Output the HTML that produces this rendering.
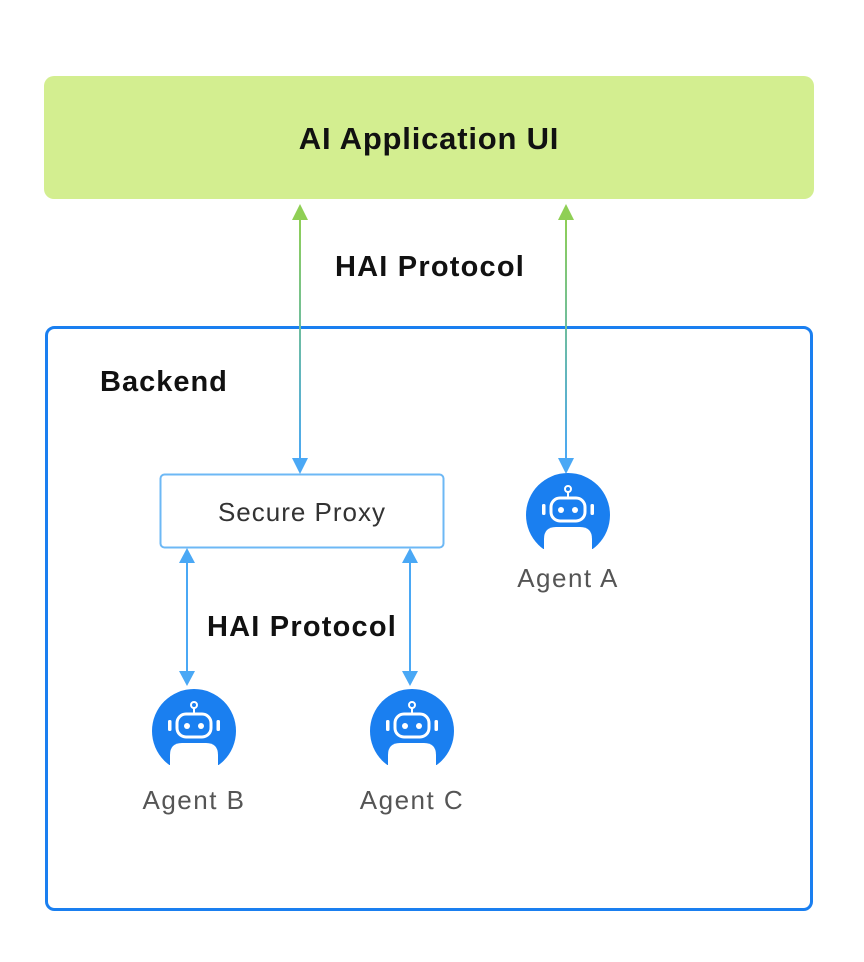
<!DOCTYPE html>
<html><head><style>body{margin:0;background:#fff}svg{display:block}</style></head><body>
<svg width="864" height="962" viewBox="0 0 864 962" xmlns="http://www.w3.org/2000/svg" font-family="Liberation Sans, sans-serif">
<defs>
<linearGradient id="g" x1="0" y1="0" x2="0" y2="1"><stop offset="0" stop-color="#8fcf55"/><stop offset="1" stop-color="#4aa8f5"/></linearGradient>
<g id="bot">
<clipPath id="cp"><rect x="-50" y="-50" width="100" height="84"/></clipPath>
<circle r="42" fill="#1a7ff0" clip-path="url(#cp)"/>
<path d="M-24,34 V24 Q-24,12 -12,12 H12 Q24,12 24,24 V34 Z" fill="#fff"/>
<rect x="-17" y="-17" width="34" height="23" rx="9" fill="#1a7ff0" stroke="#fff" stroke-width="3"/>
<circle cx="-7" cy="-5" r="3" fill="#fff"/><circle cx="7" cy="-5" r="3" fill="#fff"/>
<rect x="-26" y="-11" width="3.5" height="11" rx="1.5" fill="#fff"/><rect x="22.5" y="-11" width="3.5" height="11" rx="1.5" fill="#fff"/>
<line x1="0" y1="-23" x2="0" y2="-17" stroke="#fff" stroke-width="2"/>
<circle cy="-26" r="3" fill="none" stroke="#fff" stroke-width="2"/>
</g>
</defs>
<rect x="44" y="76" width="770" height="123" rx="10" fill="#d3ee90"/>
<text x="429" y="149" text-anchor="middle" font-size="31" letter-spacing="0.8" font-weight="bold" fill="#111">AI Application UI</text>
<rect x="46.5" y="327.5" width="765" height="582" rx="8" fill="none" stroke="#1a7ff0" stroke-width="3"/>
<text x="100" y="391" font-size="29" letter-spacing="1" font-weight="bold" fill="#111">Backend</text>
<text x="430" y="276" text-anchor="middle" font-size="29" letter-spacing="1.2" font-weight="bold" fill="#111">HAI Protocol</text>
<text x="302" y="636" text-anchor="middle" font-size="29" letter-spacing="1.2" font-weight="bold" fill="#111">HAI Protocol</text>
<rect x="299" y="218" width="2" height="242" fill="url(#g)"/>
<rect x="565" y="218" width="2" height="242" fill="url(#g)"/>
<polygon points="300,204 292,220 308,220" fill="#8fcf55"/>
<polygon points="566,204 558,220 574,220" fill="#8fcf55"/>
<polygon points="300,474 292,458 308,458" fill="#4aa8f5"/>
<polygon points="566,474 558,458 574,458" fill="#4aa8f5"/>
<rect x="160.5" y="474.5" width="283" height="73" rx="4" fill="#fff" stroke="#6db8f5" stroke-width="2"/>
<text x="302" y="521" text-anchor="middle" font-size="26" letter-spacing="1" fill="#333">Secure Proxy</text>
<line x1="187" y1="560" x2="187" y2="675" stroke="#4aa8f5" stroke-width="2"/>
<line x1="410" y1="560" x2="410" y2="675" stroke="#4aa8f5" stroke-width="2"/>
<polygon points="187,548 179,563 195,563" fill="#4aa8f5"/>
<polygon points="410,548 402,563 418,563" fill="#4aa8f5"/>
<polygon points="187,686 179,671 195,671" fill="#4aa8f5"/>
<polygon points="410,686 402,671 418,671" fill="#4aa8f5"/>
<use href="#bot" x="568" y="515"/>
<use href="#bot" x="194" y="731"/>
<use href="#bot" x="412" y="731"/>
<text x="568" y="587" text-anchor="middle" font-size="26" letter-spacing="1.5" fill="#555">Agent A</text>
<text x="194" y="809" text-anchor="middle" font-size="26" letter-spacing="1.5" fill="#555">Agent B</text>
<text x="412" y="809" text-anchor="middle" font-size="26" letter-spacing="1.5" fill="#555">Agent C</text>
</svg>
</body></html>
